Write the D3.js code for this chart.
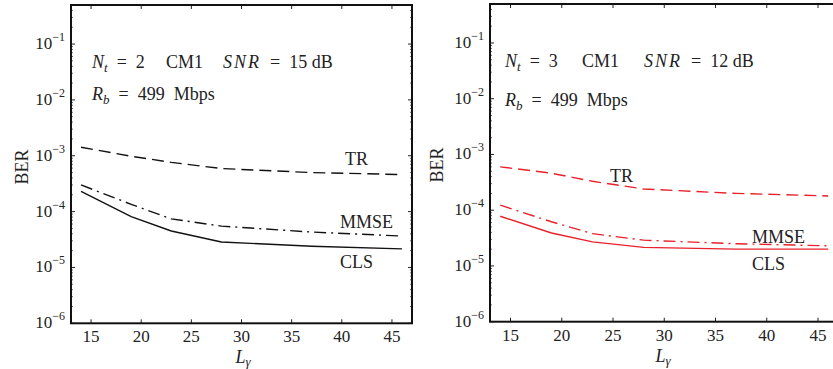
<!DOCTYPE html>
<html><head><meta charset="utf-8">
<script src="https://cdn.jsdelivr.net/npm/d3@7/dist/d3.min.js"></script>
<style>
body{margin:0;background:#fff;}
text{font-family:"Liberation Serif","Times New Roman",serif;fill:#222;}
</style></head>
<body><svg id="c" width="833" height="369"></svg>
<script>
// ---- data ----
const lValues = [14, 19, 23, 28, 37, 46];
const tr2   = [1.42e-3, 9.8e-4, 7.6e-4, 5.9e-4, 5.0e-4, 4.6e-4];
const mmse2 = [3.0e-4, 1.35e-4, 7.4e-5, 5.5e-5, 4.3e-5, 3.65e-5];
const cls2  = [2.3e-4, 8.1e-5, 4.5e-5, 2.85e-5, 2.4e-5, 2.15e-5];
const tr3   = [6.0e-4, 4.6e-4, 3.3e-4, 2.4e-4, 2.0e-4, 1.8e-4];
const mmse3 = [1.23e-4, 6.2e-5, 3.8e-5, 2.9e-5, 2.5e-5, 2.3e-5];
const cls3  = [7.8e-5, 3.9e-5, 2.7e-5, 2.15e-5, 2.0e-5, 2.0e-5];
const xTicks = [15, 20, 25, 30, 35, 40, 45];
const yExponents = [-6, -5, -4, -3, -2, -1];
const xDomain = [13, 47];
const yDomain = [1e-6, 0.5];

const panels = [
  {x0:71, x1:412, yTop:5, yBot:323.3, color:"#111", series:[tr2,mmse2,cls2],
   labels:[{t:"TR",x:345,y:165},{t:"MMSE",x:340,y:228},{t:"CLS",x:340,y:268}],
   nt:"2", snr:"15", ann:{x:92,y1:68,y2:100,cm:166,snrx:223},
   ylab:{x:28,y:167}, xlab:{x:243,y:363}},
  {x0:490, x1:838.5, yTop:4, yBot:321.7, color:"#e8212a", series:[tr3,mmse3,cls3],
   labels:[{t:"TR",x:610,y:182},{t:"MMSE",x:752,y:243},{t:"CLS",x:752,y:270}],
   nt:"3", snr:"12", ann:{x:505,y1:67,y2:106,cm:582,snrx:644},
   ylab:{x:443,y:165}, xlab:{x:663,y:362}}
];
const dashes = ["12,6", "12,5,2,5", null];
const EQ = "\u2002=\u2002";

const svg = d3.select("#c");

panels.forEach(p => {
  const x = d3.scaleLinear().domain(xDomain).range([p.x0, p.x1]);
  const y = d3.scaleLog().domain(yDomain).range([p.yBot, p.yTop]);
  const g = svg.append("g");

  // data lines
  const line = d3.line().x((d,i)=>x(lValues[i])).y(d=>y(d));
  p.series.forEach((s,k)=>{
    g.append("path").datum(s).attr("d", line)
      .attr("fill","none").attr("stroke",p.color).attr("stroke-width",1.4)
      .attr("stroke-dasharray", dashes[k]);
  });

  // ticks (inside), all four sides
  const tk = 4;
  xTicks.forEach(v=>{
    g.append("line").attr("x1",x(v)).attr("x2",x(v)).attr("y1",p.yBot).attr("y2",p.yBot-tk).attr("stroke","#222");
    g.append("line").attr("x1",x(v)).attr("x2",x(v)).attr("y1",p.yTop).attr("y2",p.yTop+tk).attr("stroke","#222");
    g.append("text").attr("x",x(v)).attr("y",p.yBot+19).attr("text-anchor","middle")
      .attr("font-size",17).text(v);
  });
  yExponents.forEach(e=>{
    const v = Math.pow(10,e);
    g.append("line").attr("x1",p.x0).attr("x2",p.x0+tk).attr("y1",y(v)).attr("y2",y(v)).attr("stroke","#222");
    g.append("line").attr("x1",p.x1).attr("x2",p.x1-tk).attr("y1",y(v)).attr("y2",y(v)).attr("stroke","#222");
    for(let m=2;m<=9;m++){
      const mv = m*v;
      if (mv > yDomain[1]) break;
      g.append("line").attr("x1",p.x0).attr("x2",p.x0+2).attr("y1",y(mv)).attr("y2",y(mv)).attr("stroke","#444").attr("stroke-width",0.8);
      g.append("line").attr("x1",p.x1).attr("x2",p.x1-2).attr("y1",y(mv)).attr("y2",y(mv)).attr("stroke","#444").attr("stroke-width",0.8);
    }
    const t = g.append("text").attr("x",p.x0-6).attr("y",y(v)+5).attr("text-anchor","end").attr("font-size",17);
    t.append("tspan").text("10");
    t.append("tspan").attr("dy",-8).attr("font-size",12).text("\u2212"+(-e));
  });

  // box
  g.append("rect").attr("x",p.x0).attr("y",p.yTop).attr("width",p.x1-p.x0).attr("height",p.yBot-p.yTop)
    .attr("fill","none").attr("stroke","#111").attr("stroke-width",2);

  // curve labels
  p.labels.forEach(l=>{
    g.append("text").attr("x",l.x).attr("y",l.y).attr("font-size",18).text(l.t);
  });

  // annotations
  const a = p.ann;
  const t1 = g.append("text").attr("x",a.x).attr("y",a.y1).attr("font-size",18);
  t1.append("tspan").attr("font-style","italic").text("N");
  t1.append("tspan").attr("font-style","italic").attr("font-size",13).attr("dy",4).text("t");
  t1.append("tspan").attr("dy",-4).text(EQ+p.nt);
  g.append("text").attr("x",a.cm).attr("y",a.y1).attr("font-size",18).text("CM1");
  const t2 = g.append("text").attr("x",a.snrx).attr("y",a.y1).attr("font-size",18);
  t2.append("tspan").attr("font-style","italic").attr("letter-spacing",2).text("SNR");
  t2.append("tspan").text(EQ+p.snr+" dB");
  const t3 = g.append("text").attr("x",a.x).attr("y",a.y2).attr("font-size",18);
  t3.append("tspan").attr("font-style","italic").text("R");
  t3.append("tspan").attr("font-style","italic").attr("font-size",13).attr("dy",4).text("b");
  t3.append("tspan").attr("dy",-4).text(EQ+"499\u2002Mbps");

  // axis titles
  g.append("text").attr("transform",`translate(${p.ylab.x},${p.ylab.y}) rotate(-90)`)
    .attr("text-anchor","middle").attr("font-size",18).text("BER");
  const xl = g.append("text").attr("x",p.xlab.x).attr("y",p.xlab.y).attr("text-anchor","middle").attr("font-size",18);
  xl.append("tspan").attr("font-style","italic").text("L");
  xl.append("tspan").attr("font-style","italic").attr("font-size",13).attr("dy",3).text("\u03b3");
});
</script></body></html>
